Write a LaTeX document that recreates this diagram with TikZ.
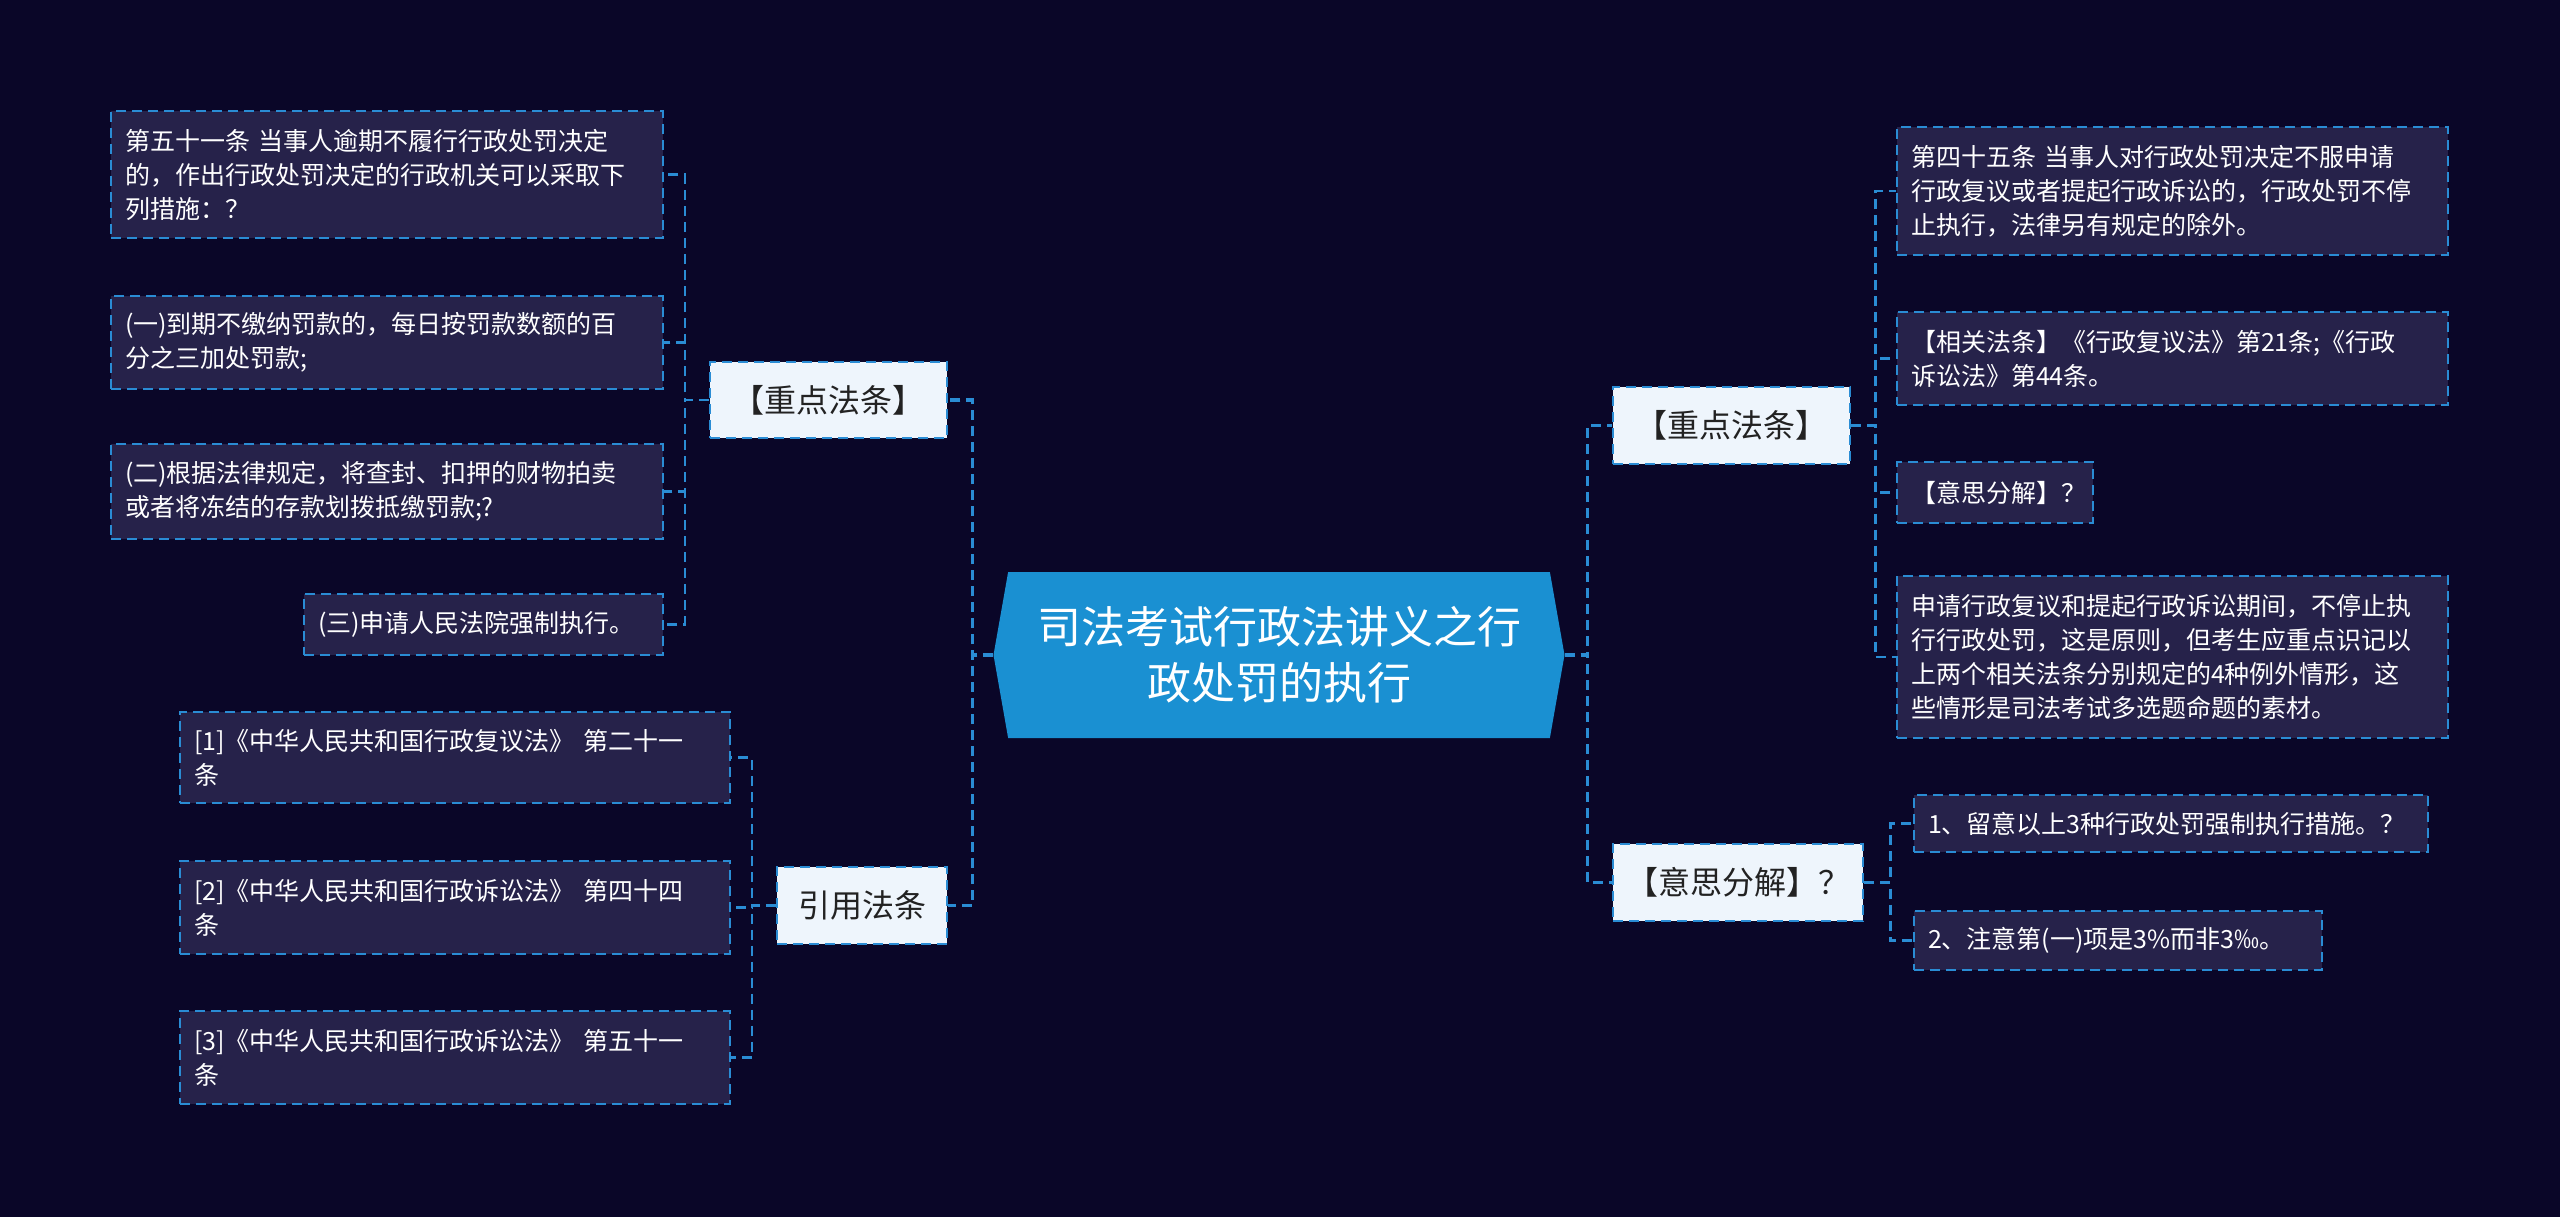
\documentclass[tikz,border=0pt]{standalone}
\usepackage{fontspec}
\setmainfont{Noto Sans CJK SC}
\usepackage{tikz}
\usetikzlibrary{positioning, shapes.symbols}
\definecolor{pagenavy}{RGB}{10, 6, 40}
\definecolor{leafpurple}{RGB}{38, 34, 74}
\definecolor{linkblue}{RGB}{42, 140, 212}
\definecolor{rootblue}{RGB}{26, 144, 210}
\definecolor{branchwhite}{RGB}{238, 245, 252}
\definecolor{branchtext}{RGB}{34, 34, 34}

\tikzset{
  link/.style={draw=linkblue, line width=2.5pt, dash pattern=on 10pt off 6pt},
  trunk/.style={link, line width=3.5pt},
  leafbox/.style={link, fill=leafpurple, text=white, align=left, inner xsep=14pt, inner ysep=0pt, font=\fontsize{25}{34}\selectfont},
  branchbox/.style={link, fill=branchwhite, text=branchtext, inner sep=0pt, font=\fontsize{32}{40}\selectfont},
  rootbox/.style={signal, signal to=west and east, signal pointer angle=160, fill=rootblue, text=white, align=center, inner sep=0pt, font=\fontsize{44}{56}\selectfont}
}

\begin{document}
\begin{tikzpicture}[x=1pt, y=-1pt]
        % Background
        \fill[pagenavy] (0,0) rectangle (2560,1217);

        % Root
        \node[rootbox, minimum width=571pt, minimum height=166pt] (root) at (1279,655) {司法考试行政法讲义之行\\政处罚的执行};

        % Branches
        \node[branchbox, minimum width=237pt, minimum height=76pt] (keyL) at (828.5,400) {【重点法条】};
        \node[branchbox, minimum width=170pt, minimum height=77pt] (citeL) at (862,905.5) {引用法条};
        \node[branchbox, minimum width=237pt, minimum height=77pt] (keyR) at (1731.5,425.5) {【重点法条】};
        \node[branchbox, minimum width=250pt, minimum height=77pt] (splitR) at (1738,882.5) {【意思分解】？};

        % Left leaves
        \node[leafbox, text width=524pt, minimum height=127pt] (keyL1) at (387,174.5) {第五十一条 当事人逾期不履行行政处罚决定\\的，作出行政处罚决定的行政机关可以采取下\\列措施：？};
        \node[leafbox, text width=524pt, minimum height=93pt] (keyL2) at (387,342.5) {(一)到期不缴纳罚款的，每日按罚款数额的百\\分之三加处罚款;};
        \node[leafbox, text width=524pt, minimum height=95pt] (keyL3) at (387,491.5) {(二)根据法律规定，将查封、扣押的财物拍卖\\或者将冻结的存款划拨抵缴罚款;?};
        \node[leafbox, text width=331pt, minimum height=61pt] (keyL4) at (483.5,624.5) {(三)申请人民法院强制执行。};

        \node[leafbox, text width=522pt, minimum height=91pt] (cite1) at (455,757.5) {[1]《中华人民共和国行政复议法》 第二十一\\条};
        \node[leafbox, text width=522pt, minimum height=93pt] (cite2) at (455,907.5) {[2]《中华人民共和国行政诉讼法》 第四十四\\条};
        \node[leafbox, text width=522pt, minimum height=93pt] (cite3) at (455,1057.5) {[3]《中华人民共和国行政诉讼法》 第五十一\\条};

        % Right leaves
        \node[leafbox, text width=523pt, minimum height=128pt] (keyR1) at (2172.5,191) {第四十五条 当事人对行政处罚决定不服申请\\行政复议或者提起行政诉讼的，行政处罚不停\\止执行，法律另有规定的除外。};
        \node[leafbox, text width=523pt, minimum height=93pt] (keyR2) at (2172.5,358.5) {【相关法条】《行政复议法》第21条;《行政\\诉讼法》第44条。};
        \node[leafbox, text width=168pt, minimum height=61pt] (keyR3) at (1995,492.5) {【意思分解】？};
        \node[leafbox, text width=523pt, minimum height=162pt] (keyR4) at (2172.5,657) {申请行政复议和提起行政诉讼期间，不停止执\\行行政处罚，这是原则，但考生应重点识记以\\上两个相关法条分别规定的4种例外情形，这\\些情形是司法考试多选题命题的素材。};

        \node[leafbox, text width=486pt, minimum height=57pt] (split1) at (2171,823.5) {1、留意以上3种行政处罚强制执行措施。？};
        \node[leafbox, text width=380pt, minimum height=59pt] (split2) at (2118,940.5) {2、注意第(一)项是3\%而非3‰。};

        % Connectors
        \draw[trunk] (root.west) -- ++(-21,0) |- (keyL.east);
        \draw[trunk] (root.west) -- ++(-21,0) |- (citeL.east);
        \draw[trunk] (root.east) -- ++(23,0) |- (keyR.west);
        \draw[trunk] (root.east) -- ++(23,0) |- (splitR.west);

        \draw[link] (keyL.west) -- ++(-24,0) |- (keyL1.east);
        \draw[link] (keyL.west) -- ++(-24,0) |- (keyL2.east);
        \draw[link] (keyL.west) -- ++(-24,0) |- (keyL3.east);
        \draw[link] (keyL.west) -- ++(-24,0) |- (keyL4.east);

        \draw[link] (citeL.west) -- ++(-24,0) |- (cite1.east);
        \draw[link] (citeL.west) -- ++(-24,0) |- (cite2.east);
        \draw[link] (citeL.west) -- ++(-24,0) |- (cite3.east);

        \draw[link] (keyR.east) -- ++(24,0) |- (keyR1.west);
        \draw[link] (keyR.east) -- ++(24,0) |- (keyR2.west);
        \draw[link] (keyR.east) -- ++(24,0) |- (keyR3.west);
        \draw[link] (keyR.east) -- ++(24,0) |- (keyR4.west);

        \draw[link] (splitR.east) -- ++(26,0) |- (split1.west);
        \draw[link] (splitR.east) -- ++(26,0) |- (split2.west);
\end{tikzpicture}
\end{document}
